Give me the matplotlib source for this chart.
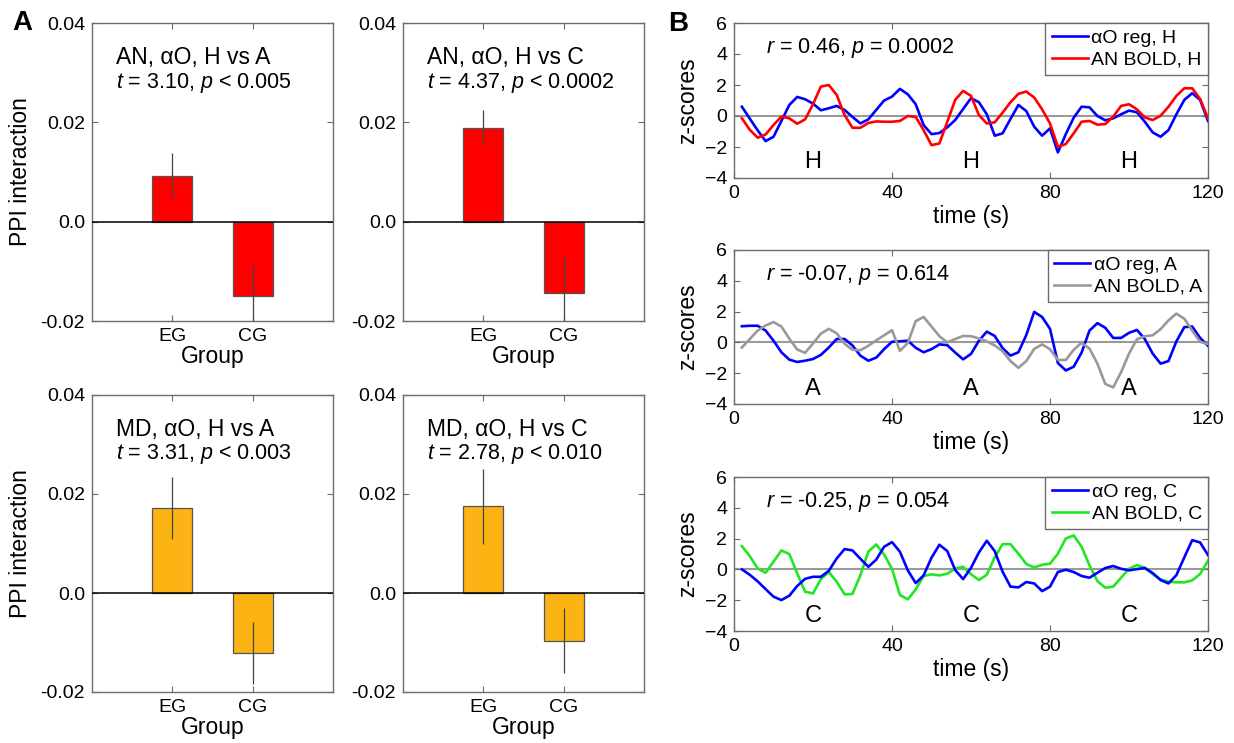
import matplotlib
matplotlib.use('Agg')
import matplotlib.pyplot as plt
import numpy as np

plt.rcParams['font.family'] = ['Liberation Sans', 'DejaVu Sans']
plt.rcParams['mathtext.fontset'] = 'custom'
plt.rcParams['mathtext.rm'] = 'Liberation Sans'
plt.rcParams['mathtext.it'] = 'Liberation Sans:italic'

# ---------------- Panel A data ----------------
groups = ['EG', 'CG']
bar_titles = ['AN, αO, H vs A', 'AN, αO, H vs C', 'MD, αO, H vs A', 'MD, αO, H vs C']
bar_stats = ['$t$ = 3.10, $p$ < 0.005', '$t$ = 4.37, $p$ < 0.0002',
             '$t$ = 3.31, $p$ < 0.003', '$t$ = 2.78, $p$ < 0.010']
means_an_a = [0.0092, -0.0150]
err_an_a = [0.0047, 0.0065]
means_an_c = [0.0189, -0.0144]
err_an_c = [0.0035, 0.0070]
means_md_a = [0.0172, -0.0121]
err_md_a = [0.0063, 0.0062]
means_md_c = [0.0175, -0.0096]
err_md_c = [0.0075, 0.0065]
bar_yticks = [-0.02, 0.0, 0.02, 0.04]
bar_yticklabels = ['-0.02', '0.0', '0.02', '0.04']

# ---------------- Panel B data ----------------
time_s = np.arange(2, 122, 2)
oreg_h = [0.60, -0.17, -0.93, -1.62, -1.34, -0.32, 0.71, 1.23, 1.08, 0.80,
          0.37, 0.50, 0.65, 0.39, -0.06, -0.48, -0.22, 0.39, 1.00, 1.25,
          1.75, 1.40, 0.76, -0.58, -1.17, -1.10, -0.73, -0.26, 0.45, 1.15,
          0.89, 0.11, -1.27, -1.12, -0.19, 0.71, 0.32, -0.69, -1.27, -0.80,
          -2.35, -1.17, -0.11, 0.60, 0.56, 0.00, -0.28, -0.15, 0.11, 0.35,
          0.24, -0.37, -1.06, -1.34, -0.91, 0.11, 1.04, 1.47, 1.04, -0.32]
bold_h = [-0.15, -0.89, -1.40, -1.19, -0.58, -0.04, -0.15, -0.50, -0.22, 0.76,
          1.90, 2.00, 1.36, 0.06, -0.76, -0.76, -0.45, -0.35, -0.37, -0.37,
          -0.32, 0.00, -0.06, -0.91, -1.88, -1.77, -0.37, 1.04, 1.62, 1.30,
          0.06, -0.48, -0.41, 0.22, 0.89, 1.43, 1.58, 1.19, 0.43, -0.48,
          -1.99, -1.81, -1.12, -0.37, -0.32, -0.56, -0.52, -0.04, 0.65, 0.76,
          0.43, -0.09, -0.26, 0.02, 0.60, 1.30, 1.79, 1.79, 1.10, -0.15]
oreg_a = [1.05, 1.08, 1.08, 0.77, 0.11, -0.64, -1.12, -1.27, -1.19, -1.08,
          -0.81, -0.33, 0.22, 0.22, -0.20, -0.86, -1.19, -0.99, -0.44, 0.04,
          0.07, 0.11, -0.35, -0.64, -0.44, -0.13, -0.18, -0.66, -1.10, -0.75,
          0.11, 0.70, 0.42, -0.37, -0.86, -0.64, 0.48, 1.98, 1.65, 0.88,
          -1.34, -1.82, -1.58, -0.66, 0.77, 1.25, 0.95, 0.29, 0.29, 0.62,
          0.81, 0.22, -0.73, -1.38, -1.21, 0.07, 0.99, 1.03, 0.29, -0.22]
bold_a = [-0.33, 0.22, 0.77, 1.10, 1.32, 1.03, 0.24, -0.46, -0.68, -0.07,
          0.57, 0.88, 0.59, -0.09, -0.48, -0.51, -0.22, 0.13, 0.46, 0.79,
          -0.55, -0.04, 1.38, 1.65, 1.03, 0.40, 0.00, 0.22, 0.42, 0.40,
          0.26, 0.07, -0.20, -0.57, -1.21, -1.65, -1.21, -0.42, -0.13, -0.44,
          -1.14, -1.14, -0.48, -0.02, -0.40, -1.38, -2.70, -2.92, -1.93, -0.73,
          0.20, 0.40, 0.46, 0.86, 1.43, 1.87, 1.54, 0.77, 0.04, -0.11]
oreg_c = [0.00, -0.35, -0.78, -1.28, -1.77, -1.99, -1.71, -1.08, -0.61, -0.48,
          -0.48, -0.09, 0.71, 1.32, 1.23, 0.69, 0.17, 0.63, 1.47, 1.77,
          1.15, -0.06, -0.89, -0.39, 0.76, 1.60, 1.19, -0.04, -0.63, 0.10,
          1.10, 1.86, 1.19, -0.15, -1.12, -1.17, -0.82, -0.91, -1.41, -1.12,
          -0.17, -0.02, -0.17, -0.43, -0.54, -0.22, 0.09, 0.22, 0.04, -0.06,
          0.02, 0.09, -0.24, -0.69, -0.91, -0.37, 0.78, 1.90, 1.75, 0.93]
bold_c = [1.51, 0.86, 0.06, -0.22, 0.50, 1.23, 1.00, -0.26, -1.45, -1.56,
          -0.63, -0.17, -0.80, -1.62, -1.60, -0.37, 1.15, 1.62, 0.97, 0.04,
          -1.66, -1.95, -1.30, -0.43, -0.32, -0.39, -0.28, 0.06, 0.17, -0.31,
          -0.69, -0.35, 0.78, 1.64, 1.64, 1.02, 0.35, 0.13, 0.30, 0.37,
          1.02, 2.01, 2.20, 1.47, 0.26, -0.76, -1.19, -1.12, -0.54, 0.04,
          0.28, 0.11, -0.30, -0.65, -0.80, -0.84, -0.84, -0.71, -0.30, 0.56]
conditions = ['H', 'A', 'C']
r_texts = ['$r$ = 0.46, $p$ = 0.0002', '$r$ = -0.07, $p$ = 0.614', '$r$ = -0.25, $p$ = 0.054']
block_times = [20, 60, 100]

W, H = 1234, 743
fig = plt.figure(figsize=(W / 100, H / 100), dpi=100)
spine_col = '#6b6b6b'


def fax(x0, y0, x1, y1):
    return fig.add_axes([x0 / W, 1 - y1 / H, (x1 - x0) / W, (y1 - y0) / H])


def style(ax):
    for s in ax.spines.values():
        s.set_color(spine_col)
        s.set_linewidth(1.0)
    ax.tick_params(direction='in', top=True, right=True, length=4,
                   color=spine_col, labelsize=14, pad=5)


# ---------------- Panel A ----------------
bar_boxes = [(92, 23, 333, 321), (403, 23, 644, 321),
             (92, 395, 333, 692), (403, 395, 644, 692)]
bar_means = [means_an_a, means_an_c, means_md_a, means_md_c]
bar_errs = [err_an_a, err_an_c, err_md_a, err_md_c]
bar_colors = ['#FF0000', '#FF0000', '#FCB314', '#FCB314']
xpos = [1, 2]
for i, box in enumerate(bar_boxes):
    ax = fax(*box)
    style(ax)
    ax.bar(xpos, bar_means[i], width=0.5, color=bar_colors[i],
           edgecolor='#555555', linewidth=0.9, zorder=2)
    ax.errorbar(xpos, bar_means[i], yerr=bar_errs[i], fmt='none',
                ecolor='#444444', elinewidth=0.9, capsize=0, zorder=3)
    ax.axhline(0, color='black', lw=1.1, zorder=4)
    ax.set_xlim(0, 3)
    ax.set_ylim(-0.02, 0.04)
    ax.set_xticks(xpos)
    ax.set_xticklabels(groups)
    ax.set_yticks(bar_yticks)
    ax.set_yticklabels(bar_yticklabels)
    ax.set_xlabel('Group', fontsize=16.5, labelpad=0)
    if i % 2 == 0:
        ax.set_ylabel('PPI interaction', fontsize=16.5, labelpad=6)
    ax.text(0.10, 0.885, bar_titles[i], transform=ax.transAxes,
            fontsize=16.5, va='center', ha='left')
    ax.text(0.10, 0.80, bar_stats[i], transform=ax.transAxes,
            fontsize=15.5, va='center', ha='left')

fig.text(12 / W, 1 - 23 / H, 'A', fontsize=20, fontweight='bold',
         ha='left', va='center')
fig.text(668 / W, 1 - 24 / H, 'B', fontsize=20, fontweight='bold',
         ha='left', va='center')

# ---------------- Panel B ----------------
ts_boxes = [(734, 23, 1208, 178), (734, 250, 1208, 404), (734, 477, 1208, 631)]
reg_series = [oreg_h, oreg_a, oreg_c]
bold_series = [bold_h, bold_a, bold_c]
bold_colors = ['#FF0000', '#999999', '#22E622']
for i, box in enumerate(ts_boxes):
    ax = fax(*box)
    style(ax)
    ax.axhline(0, color='#9a9a9a', lw=1.5, zorder=1)
    cond = conditions[i]
    ax.plot(time_s, reg_series[i], color='#0000FF', lw=1.9,
            label=f'αO reg, {cond}', zorder=3)
    ax.plot(time_s, bold_series[i], color=bold_colors[i], lw=1.9,
            label=f'AN BOLD, {cond}', zorder=2 if i == 2 else 4)
    ax.set_xlim(0, 120)
    ax.set_ylim(-4, 6)
    ax.set_xticks([0, 40, 80, 120])
    ax.set_yticks([-4, -2, 0, 2, 4, 6])
    ax.set_xlabel('time (s)', fontsize=16.5, labelpad=2)
    ax.set_ylabel('z-scores', fontsize=16.5, labelpad=4)
    for bt in block_times:
        ax.text(bt, -3.0, cond, ha='center', va='center', fontsize=17)
    ax.text(0.068, 0.84, r_texts[i], transform=ax.transAxes,
            fontsize=15.5, va='center', ha='left')
    leg = ax.legend(loc='upper right', fontsize=14, frameon=True,
                    fancybox=False, borderaxespad=0, handlelength=1.85,
                    handletextpad=0.2, borderpad=0.32, labelspacing=0.22)
    leg.get_frame().set_edgecolor(spine_col)
    leg.get_frame().set_linewidth(1.0)
    leg.get_frame().set_alpha(1)

fig.savefig('out.png', dpi=100)
